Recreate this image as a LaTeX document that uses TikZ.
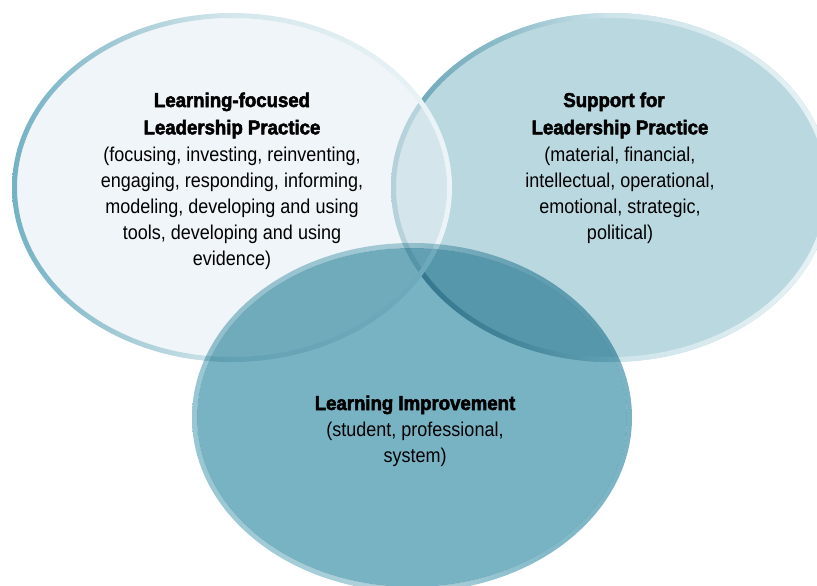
\documentclass[tikz,border=0pt]{standalone}
\usepackage{fontspec}
\setmainfont{Liberation Sans}[FakeStretch=0.9]
\newfontfamily\headfont{Liberation Sans Bold}[FakeStretch=0.93,FakeBold=2.5]
\definecolor{rfill}{RGB}{186,216,224}
\definecolor{lfill}{RGB}{229,238,243}
\definecolor{bfill}{RGB}{120,179,195}
\definecolor{rLa}{RGB}{115,178,196}
\definecolor{rLb}{RGB}{165,203,214}
\definecolor{rLc}{RGB}{212,231,236}
\definecolor{rLd}{RGB}{236,244,247}
\definecolor{rRa}{RGB}{105,165,182}
\definecolor{rRb}{RGB}{140,187,200}
\definecolor{rRc}{RGB}{205,228,234}
\definecolor{rRd}{RGB}{232,242,245}
\definecolor{rBa}{RGB}{152,198,210}
\definecolor{rBc}{RGB}{178,212,221}
\definecolor{rBd}{RGB}{132,186,201}
\definecolor{rBe}{RGB}{121,179,195}
\pgfdeclarehorizontalshading{ringL}{100bp}{color(0bp)=(rLa); color(25bp)=(rLa); color(37.5bp)=(rLb); color(50bp)=(rLc); color(75bp)=(rLd); color(100bp)=(rLd)}
\pgfdeclarehorizontalshading{ringR}{100bp}{color(0bp)=(rRa); color(25bp)=(rRa); color(37.5bp)=(rRb); color(50bp)=(rRc); color(75bp)=(rRd); color(100bp)=(rRd)}
\pgfdeclarehorizontalshading{ringB}{100bp}{color(0bp)=(rBa); color(25bp)=(rBa); color(50bp)=(rBc); color(65bp)=(rBd); color(75bp)=(rBe); color(100bp)=(rBe)}
\tikzset{
  blocktext/.style={align=center, text=black, inner sep=0pt, anchor=base,
    font=\fontsize{20}{26}\selectfont},
}
\begin{document}
\begin{tikzpicture}[x=1pt,y=-1pt]
\useasboundingbox (0,0) rectangle (817,586);
\clip (0,0) rectangle (817,586);
% right circle
\fill[rfill] (611,187.5) ellipse [x radius=220, y radius=174.5];
\shade[shading=ringR, even odd rule] (611,187.5) ellipse [x radius=220, y radius=174.5]
  (611,187.5) ellipse [x radius=215, y radius=169.5];
% left circle
\fill[lfill, fill opacity=0.61] (232,187.5) ellipse [x radius=215, y radius=169.5];
\shade[shading=ringL, even odd rule] (232,187.5) ellipse [x radius=220, y radius=174.5]
  (232,187.5) ellipse [x radius=215, y radius=169.5];
% bottom circle
\begin{scope}[blend mode=multiply]
\fill[bfill] (412,417.5) ellipse [x radius=215, y radius=169.5];
\shade[shading=ringB, even odd rule] (412,417.5) ellipse [x radius=220, y radius=174.5]
  (412,417.5) ellipse [x radius=215, y radius=169.5];
\end{scope}
% texts (anchor = baseline of last line)
\node[blocktext] (lefttext) at (232,265.3) {{\headfont Learning-focused}\\[1.3pt]
  {\headfont Leadership Practice}\\[1pt]
  (focusing, investing, reinventing,\\
  engaging, responding, informing,\\
  modeling, developing and using\\
  tools, developing and using\\
  evidence)};
\node[blocktext] (righttext) at (620,239.3) {{\headfont Support for\hspace*{0.6em}}\\[1.3pt]
  {\headfont Leadership Practice}\\[1pt]
  (material, financial,\\
  intellectual, operational,\\
  emotional, strategic,\\
  political)};
\node[blocktext] (bottomtext) at (415,462.7) {{\headfont Learning Improvement}\\[0.7pt]
  (student, professional,\\
  system)};
\end{tikzpicture}
\end{document}
